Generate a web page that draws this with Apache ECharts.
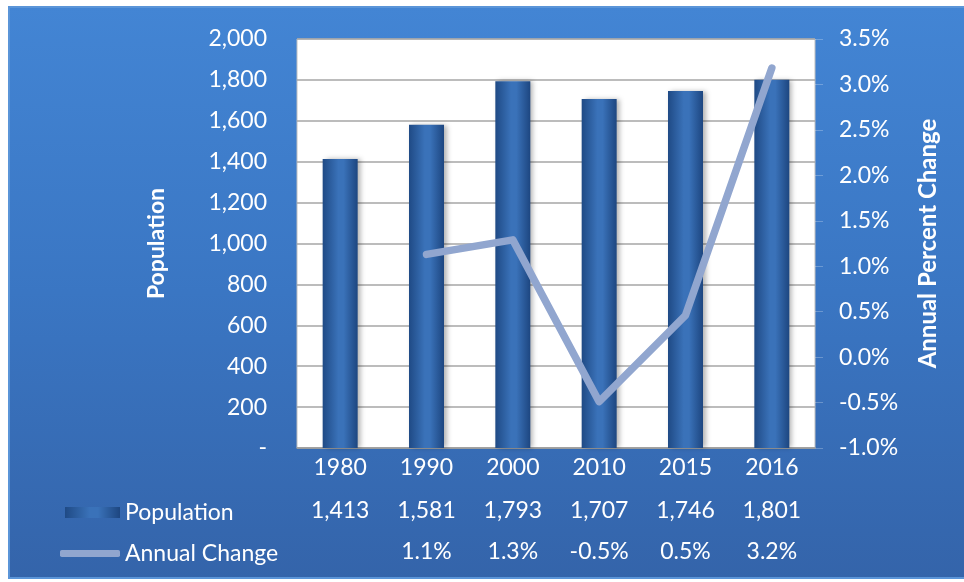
<!DOCTYPE html>
<html>
<head>
<meta charset="utf-8">
<script src="https://cdn.jsdelivr.net/npm/echarts@6/dist/echarts.min.js"></script>
<style>
html,body{margin:0;padding:0;background:#fff;}
#c{width:964px;height:582px;}
</style>
</head>
<body>
<div id="c"></div>
<script>
var years = ['1980', '1990', '2000', '2010', '2015', '2016'];
var population = [1413, 1581, 1793, 1707, 1746, 1801];
var annualChange = [null, 1.13, 1.29, -0.49, 0.46, 3.18];
var popTicks = { min: 0, max: 2000, interval: 200 };
var pctTicks = { min: -1.0, max: 3.5, interval: 0.5 };

var FONT = 'Lato';
var chart = echarts.init(document.getElementById('c'), null, { renderer: 'canvas' });

var barGrad = new echarts.graphic.LinearGradient(0, 0, 1, 0, [
  { offset: 0, color: '#1f4a85' },
  { offset: 0.45, color: '#3a72b9' },
  { offset: 0.6, color: '#3a72b9' },
  { offset: 1, color: '#1d4680' }
]);

var option = {
  backgroundColor: '#ffffff',
  animation: false,
  graphic: [{
    type: 'rect',
    z: -10,
    silent: true,
    shape: { x: 9, y: 7, width: 960, height: 571 },
    style: {
      fill: new echarts.graphic.LinearGradient(0, 0, 0, 1, [
        { offset: 0, color: '#4385d4' },
        { offset: 0.5, color: '#3a76c3' },
        { offset: 1, color: '#3464aa' }
      ]),
      stroke: '#5b95d8',
      lineWidth: 2
    }
  }],
  textStyle: { fontFamily: FONT },
  grid: {
    left: 297, right: 149, top: 39, bottom: 134,
    show: true, backgroundColor: '#ffffff', borderColor: '#bfbfbf', borderWidth: 1
  },
  legend: [{
    left: 60, top: 496,
    data: [{ name: 'Population', icon: 'rect' }],
    itemWidth: 55, itemHeight: 11,
    textStyle: { color: '#ffffff', fontSize: 23, fontFamily: FONT }
  }, {
    left: 55, top: 537,
    data: [{ name: 'Annual Change', icon: 'roundRect' }],
    itemWidth: 60, itemHeight: 7,
    textStyle: { color: '#ffffff', fontSize: 23, fontFamily: FONT }
  }],
  xAxis: [{
    type: 'category', data: years, position: 'bottom',
    axisLine: { show: true, lineStyle: { color: '#9a9a9a', width: 1.5 } },
    axisTick: { show: false },
    axisLabel: { color: '#ffffff', fontSize: 23, margin: 8, interval: 0, fontFamily: FONT }
  }, {
    type: 'category', data: years, position: 'bottom', offset: 43, gridIndex: 0,
    axisLine: { show: false }, axisTick: { show: false }, splitLine: { show: false },
    axisLabel: {
      color: '#ffffff', fontSize: 23, margin: 8, interval: 0, fontFamily: FONT,
      formatter: function (v, i) { return population[i].toLocaleString('en-US'); }
    }
  }, {
    type: 'category', data: years, position: 'bottom', offset: 84, gridIndex: 0,
    axisLine: { show: false }, axisTick: { show: false }, splitLine: { show: false },
    axisLabel: {
      color: '#ffffff', fontSize: 23, margin: 8, interval: 0, fontFamily: FONT,
      formatter: function (v, i) { var c = annualChange[i]; return c == null ? '' : c.toFixed(1) + '%'; }
    }
  }],
  yAxis: [{
    type: 'value', position: 'left',
    min: popTicks.min, max: popTicks.max, interval: popTicks.interval,
    name: 'Population', nameLocation: 'middle', nameGap: 129, nameRotate: 90,
    nameTextStyle: { color: '#ffffff', fontSize: 23, fontWeight: 'bold', fontFamily: FONT },
    axisLine: { show: false }, axisTick: { show: false },
    splitLine: { show: true, lineStyle: { color: '#a6a6a6', width: 1.5 } },
    axisLabel: {
      color: '#ffffff', fontSize: 23, margin: 30, fontFamily: FONT,
      formatter: function (v) { return v === 0 ? '-' : v.toLocaleString('en-US'); }
    }
  }, {
    type: 'value', position: 'right',
    min: pctTicks.min, max: pctTicks.max, interval: pctTicks.interval,
    name: 'Annual Percent Change', nameLocation: 'middle', nameGap: 101, nameRotate: 90,
    nameTextStyle: { color: '#ffffff', fontSize: 24, fontWeight: 'bold', fontFamily: FONT },
    axisLine: { show: false },
    axisTick: { show: true, length: 8, lineStyle: { color: 'rgba(255,255,255,0.25)' } },
    splitLine: { show: false },
    axisLabel: {
      color: '#ffffff', fontSize: 23, margin: 24, fontFamily: FONT,
      formatter: function (v) { return v.toFixed(1) + '%'; }
    }
  }],
  series: [{
    name: 'Population', type: 'bar', xAxisIndex: 0, yAxisIndex: 0,
    data: population, barWidth: 35,
    itemStyle: {
      color: barGrad,
      shadowBlur: 5, shadowOffsetX: 3, shadowOffsetY: 0, shadowColor: 'rgba(0,0,0,0.3)'
    }
  }, {
    name: 'Annual Change', type: 'line', xAxisIndex: 0, yAxisIndex: 1,
    data: annualChange, showSymbol: false, symbol: 'none', connectNulls: false,
    itemStyle: { color: '#91a6cf' },
    lineStyle: { color: '#91a6cf', width: 7.5, cap: 'round', join: 'round' },
    z: 5
  }]
};
chart.setOption(option);
</script>
</body>
</html>
